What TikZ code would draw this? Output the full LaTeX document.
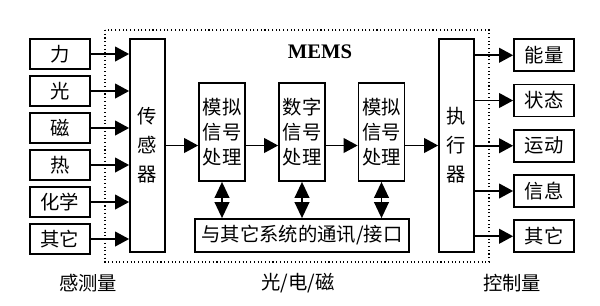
\documentclass[tikz,border=0pt]{standalone}
\usepackage{fontspec}
\setmainfont{Liberation Serif}
\newfontfamily\cjk{Noto Sans CJK SC}
\usetikzlibrary{arrows.meta}

\begin{document}
\begin{tikzpicture}[x=0.75pt, y=-0.75pt,
        box/.style={draw, line width=1.3pt, inner sep=0pt, font=\cjk\fontsize{14.5}{18.75}\selectfont, align=center},
        inbox/.style={box, minimum width=45pt, minimum height=22.5pt},
        outbox/.style={box, minimum width=45pt, minimum height=24pt},
        tallbox/.style={box, minimum width=26.25pt, minimum height=159.75pt, font=\cjk\fontsize{14.5}{21.75}\selectfont},
        procbox/.style={box, minimum width=34.5pt, minimum height=73.5pt},
        flow/.style={line width=1.3pt, -{Triangle[length=10.5pt, width=11pt]}},
        both/.style={line width=1.3pt, {Triangle[length=12pt, width=11pt]}-{Triangle[length=12pt, width=11pt]}},
        caption/.style={font=\cjk\fontsize{14.5}{17}\selectfont}]
    \useasboundingbox (0,0) rectangle (600,305);
    % MEMS frame
    \draw[dotted, line width=0.8pt] (105,30) rectangle (489,262);
    \node[font=\bfseries\fontsize{15.5}{18}\selectfont] (mems) at (320,52) {MEMS};
    % main chain
    \node[tallbox] (sensor) at (147.5,145.5) {传\\感\\器};
    \node[procbox] (ana1) at (222,132) {模拟\\信号\\处理};
    \node[procbox] (digi) at (302,132) {数字\\信号\\处理};
    \node[procbox] (ana2) at (381.5,132) {模拟\\信号\\处理};
    \node[tallbox] (actor) at (456.5,145.5) {执\\行\\器};
    \node[box, minimum width=160.5pt, minimum height=24.75pt] (comm) at (302,235.5) {与其它系统的通讯/接口};
    \draw[flow] (sensor.east) -- (sensor.east -| ana1.west);
    \draw[flow] (ana1.east |- sensor.east) -- (sensor.east -| digi.west);
    \draw[flow] (digi.east |- sensor.east) -- (sensor.east -| ana2.west);
    \draw[flow] (ana2.east |- sensor.east) -- (sensor.east -| actor.west);
    \foreach \p in {ana1, digi, ana2}
        \draw[both] (\p.south) -- (\p.south |- comm.north);
    % inputs
    \foreach \t [count=\i] in {力, 光, 磁, 热, 化学, 其它} {
        \node[inbox] (in\i) at (60,{17+37*\i}) {\t};
        \draw[flow] (in\i.east) -- (in\i.east -| sensor.west);
    }
    % outputs
    \foreach \t [count=\i] in {能量, 状态, 运动, 信息, 其它} {
        \node[outbox] (out\i) at (544,{10+45.25*\i}) {\t};
        \draw[flow] (out\i.west -| actor.east) -- (out\i.west);
    }
    % captions
    \node[caption] (sense) at (88,283) {感测量};
    \node[caption] (media) at (298,283) {光/电/磁};
    \node[caption] (ctrl) at (512,283) {控制量};
\end{tikzpicture}
\end{document}
